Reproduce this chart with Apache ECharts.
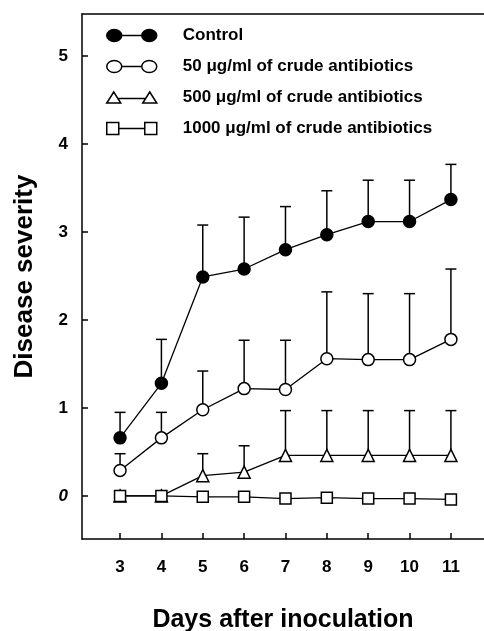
<!DOCTYPE html>
<html>
<head>
<meta charset="utf-8">
<script src="https://cdn.jsdelivr.net/npm/echarts@6/dist/echarts.min.js"></script>
<style>
html,body{margin:0;padding:0;background:#fff;}
#chart{width:484px;height:631px;}
</style>
</head>
<body>
<div id="chart"></div>
<script>
const days = [3, 4, 5, 6, 7, 8, 9, 10, 11];
const yTicks = [0, 1, 2, 3, 4, 5];
const seriesNames = ['Control', '50 μg/ml of crude antibiotics', '500 μg/ml of crude antibiotics', '1000 μg/ml of crude antibiotics'];
const control = [0.66, 1.28, 2.49, 2.58, 2.80, 2.97, 3.12, 3.12, 3.37];
const controlTop = [0.95, 1.78, 3.08, 3.17, 3.29, 3.47, 3.59, 3.59, 3.77];
const crude50 = [0.29, 0.66, 0.98, 1.22, 1.21, 1.56, 1.55, 1.55, 1.78];
const crude50Top = [0.48, 0.95, 1.42, 1.77, 1.77, 2.32, 2.30, 2.30, 2.58];
const crude500 = [0, 0, 0.23, 0.27, 0.46, 0.46, 0.46, 0.46, 0.46];
const crude500Top = [null, null, 0.48, 0.57, 0.97, 0.97, 0.97, 0.97, 0.97];
const crude1000 = [0, 0, -0.01, -0.01, -0.03, -0.02, -0.03, -0.03, -0.04];

const FONT = 'Liberation Sans, Arial, sans-serif';
const pairs = (vals) => days.map((d, i) => [d, vals[i]]);

function errData(vals, tops) {
  const out = [];
  days.forEach((d, i) => { if (tops[i] != null) out.push([d, vals[i], tops[i]]); });
  return out;
}

function errSeries(vals, tops) {
  return {
    type: 'custom',
    z: 1,
    silent: true,
    data: errData(vals, tops),
    renderItem: function (params, api) {
      const p = api.coord([api.value(0), api.value(1)]);
      const t = api.coord([api.value(0), api.value(2)]);
      const st = { stroke: '#000', lineWidth: 1.5 };
      return {
        type: 'group',
        children: [
          { type: 'line', shape: { x1: p[0], y1: p[1], x2: t[0], y2: t[1] }, style: st },
          { type: 'line', shape: { x1: t[0] - 5.5, y1: t[1], x2: t[0] + 5.5, y2: t[1] }, style: st }
        ]
      };
    }
  };
}

function lineSeries(name, vals, symbol, size, fill) {
  return {
    name: name,
    type: 'line',
    z: 3,
    data: pairs(vals),
    symbol: symbol,
    symbolSize: size,
    showAllSymbol: true,
    lineStyle: { color: '#000', width: 1.3 },
    itemStyle: { color: fill, borderColor: '#000', borderWidth: 1.5, opacity: 1 },
    emphasis: { disabled: true }
  };
}

const iconCircles = 'path://M0,6A7.5,6 0 1,0 15,6A7.5,6 0 1,0 0,6Z M35,6A7.5,6 0 1,0 50,6A7.5,6 0 1,0 35,6Z M15,5.9L35,5.9L35,6.1L15,6.1Z';
const iconTri = 'path://M0,12L7,1L14,12Z M36,12L43,1L50,12Z M11.2,7.4L38.8,7.4L38.8,7.6L11.2,7.6Z';
const iconSq = 'path://M0,0L12,0L12,12L0,12Z M38,0L50,0L50,12L38,12Z M12,5.9L38,5.9L38,6.1L12,6.1Z';

const axisLineStyle = { color: '#000', width: 1.5 };

const chart = echarts.init(document.getElementById('chart'));
chart.setOption({
  animation: false,
  backgroundColor: '#fff',
  grid: { left: 82, right: 0, top: 14, bottom: 92, outerBoundsMode: 'none', containLabel: false },
  legend: {
    orient: 'vertical',
    left: 106,
    top: 27,
    padding: 0,
    itemWidth: 50,
    itemHeight: 12,
    itemGap: 14,
    selectedMode: false,
    textStyle: { fontFamily: FONT, fontWeight: 'bold', fontSize: 17, color: '#000', lineHeight: 12, padding: [0, 0, 0, 21] },
    data: [
      { name: seriesNames[0], icon: iconCircles, itemStyle: { color: '#000', borderColor: '#000', borderWidth: 1.5 } },
      { name: seriesNames[1], icon: iconCircles, itemStyle: { color: '#fff', borderColor: '#000', borderWidth: 1.5 } },
      { name: seriesNames[2], icon: iconTri, itemStyle: { color: '#fff', borderColor: '#000', borderWidth: 1.5 } },
      { name: seriesNames[3], icon: iconSq, itemStyle: { color: '#fff', borderColor: '#000', borderWidth: 1.5 } }
    ]
  },
  xAxis: [{
    type: 'value',
    min: 2.08,
    max: 11.80,
    name: 'Days after inoculation',
    nameLocation: 'middle',
    nameGap: 69,
    nameTextStyle: { fontFamily: FONT, fontWeight: 'bold', fontSize: 25, color: '#000' },
    axisLine: { show: true, onZero: false, lineStyle: axisLineStyle },
    axisTick: { show: true, inside: true, length: 6, customValues: days, lineStyle: { color: '#000', width: 1.5 } },
    axisLabel: { customValues: days, margin: 20, fontFamily: FONT, fontWeight: 'bold', fontSize: 17, color: '#000' },
    splitLine: { show: false }
  }, {
    type: 'value',
    position: 'top',
    min: 2.08,
    max: 11.80,
    axisLine: { show: true, onZero: false, lineStyle: axisLineStyle },
    axisTick: { show: false },
    axisLabel: { show: false },
    splitLine: { show: false }
  }],
  yAxis: {
    type: 'value',
    min: -0.49,
    max: 5.48,
    name: 'Disease severity',
    nameLocation: 'middle',
    nameGap: 44,
    nameRotate: 90,
    nameTextStyle: { fontFamily: FONT, fontWeight: 'bold', fontSize: 26, color: '#000' },
    axisLine: { show: true, onZero: false, lineStyle: axisLineStyle },
    axisTick: { show: true, inside: true, length: 6, customValues: yTicks, lineStyle: { color: '#000', width: 1.5 } },
    axisLabel: {
      customValues: yTicks, margin: 14, fontFamily: FONT, fontWeight: 'bold', fontSize: 17, color: '#000',
      formatter: function (v) { return v === 0 ? '{i|0}' : String(v); },
      rich: { i: { fontFamily: FONT, fontWeight: 'bold', fontStyle: 'italic', fontSize: 17, color: '#000' } }
    },
    splitLine: { show: false }
  },
  series: [
    errSeries(control, controlTop),
    errSeries(crude50, crude50Top),
    errSeries(crude500, crude500Top),
    lineSeries(seriesNames[0], control, 'circle', 12, '#000'),
    lineSeries(seriesNames[1], crude50, 'circle', 12, '#fff'),
    lineSeries(seriesNames[2], crude500, 'triangle', 12, '#fff'),
    lineSeries(seriesNames[3], crude1000, 'rect', 11, '#fff')
  ]
});
</script>
</body>
</html>
